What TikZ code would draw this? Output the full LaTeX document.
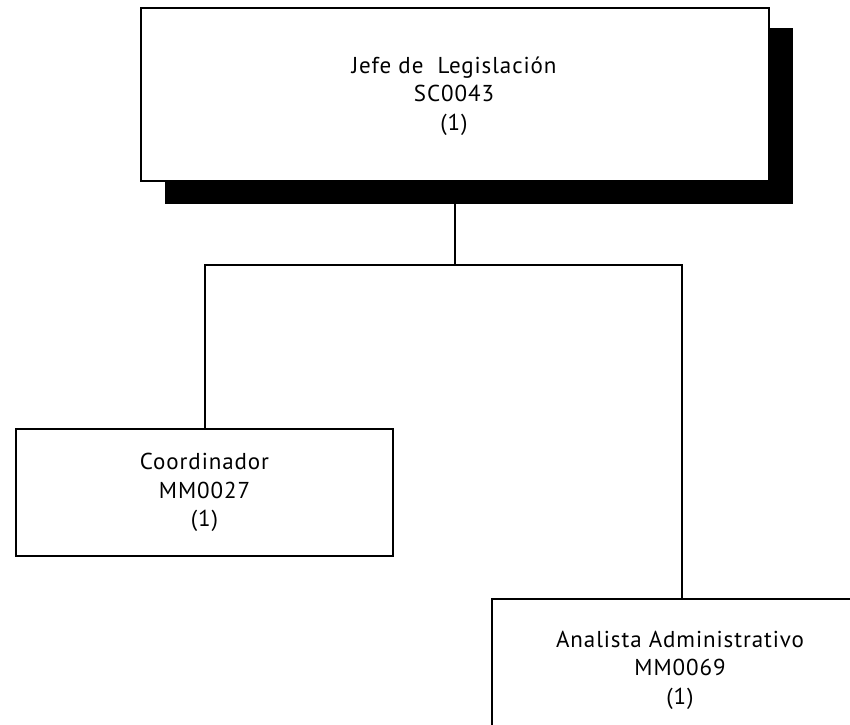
\documentclass[tikz,border=0pt]{standalone}
\usepackage{fontspec}
\setmainfont{PT Sans}[LetterSpace=4]
\begin{document}
\begin{tikzpicture}[x=1pt,y=-1pt,
  orgbox/.style={draw=black,line width=2pt,fill=white,rectangle,inner sep=0pt,anchor=north west},
  orgtext/.style={align=center,font=\fontsize{23}{28.5}\selectfont},
  link/.style={draw=black,line width=2pt}]
  \useasboundingbox (0,0) rectangle (850,724);
  \clip (0,0) rectangle (850,724);
  % drop shadow of the head position
  \fill[black] (165,28) rectangle (793,204);
  % head position
  \node[orgbox,minimum width=628pt,minimum height=173pt] (jefe) at (140,7) {};
  \node[orgtext] (jefet) at (454,96) {Jefe de\ \ Legislación\\SC0043\\(1)};
  % subordinate positions
  \node[orgbox,minimum width=377pt,minimum height=127pt] (coord) at (15,428) {};
  \node[orgtext] (coordt) at (coord.center) {Coordinador\\MM0027\\(1)};
  \node[orgbox,minimum width=380pt,minimum height=160pt] (anal) at (491,598) {};
  \node[orgtext] (analt) at (680,670) {Analista Administrativo\\MM0069\\(1)};
  % connectors
  \coordinate (jn) at (455,265);
  \draw[link] (455,204) -- (jn);
  \draw[link] (jn) -| (coord.north -| 205,0) coordinate (cl);
  \draw[link] (jn) -| (anal.north);
\end{tikzpicture}
\end{document}
